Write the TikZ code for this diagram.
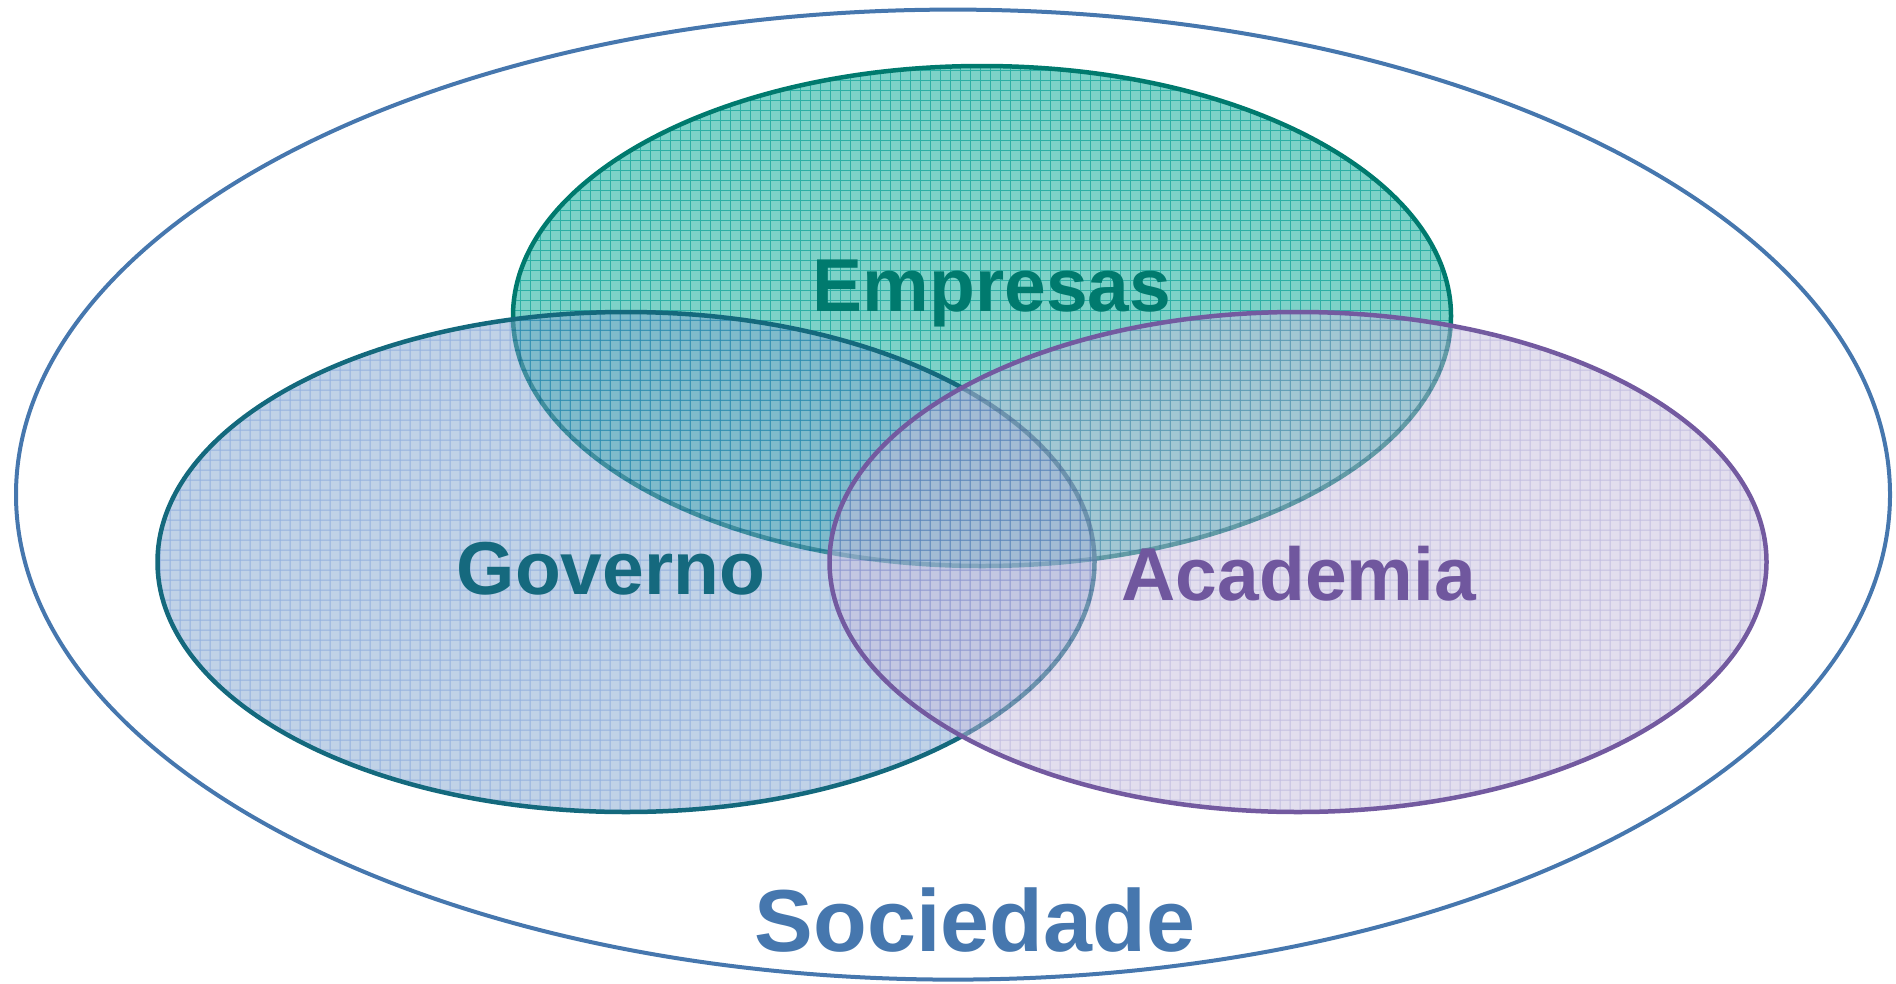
\documentclass[tikz,border=0pt]{standalone}
\usepackage{fontspec}
\setmainfont{Liberation Sans}
\definecolor{outerc}{RGB}{70,119,174}
\definecolor{empfill}{RGB}{125,210,200}
\definecolor{empgrid}{RGB}{45,175,165}
\definecolor{empline}{RGB}{0,122,110}
\definecolor{govfill}{RGB}{130,165,207}
\definecolor{govgrid}{RGB}{40,100,190}
\definecolor{govline}{RGB}{20,105,125}
\definecolor{acafill}{RGB}{198,190,222}
\definecolor{acagrid}{RGB}{135,125,195}
\definecolor{acaline}{RGB}{115,90,160}
\tikzset{
  lbl/.style={font=\fontsize{75}{80}\selectfont\bfseries, anchor=base, inner sep=0pt},
  biglbl/.style={font=\fontsize{88}{92}\selectfont\bfseries, anchor=base, inner sep=0pt},
  rim/.style={line width=4.5pt},
  gridline/.style={line width=1pt}
}
\begin{document}
\begin{tikzpicture}[x=1pt,y=-1pt]
\useasboundingbox (0,0) rectangle (1896,983);
% outer ellipse
\draw[outerc, line width=4pt] (953,494.6) ellipse [x radius=937, y radius=485];
% Empresas
\begin{scope}
  \clip (982,316) ellipse [x radius=469, y radius=250];
  \fill[empfill] (500,60) rectangle (1460,570);
  \foreach \i in {500,510,...,1460} \draw[empgrid, gridline] (\i,60) -- (\i,570);
  \foreach \j in {60,70,...,570} \draw[empgrid, gridline] (500,\j) -- (1460,\j);
\end{scope}
\draw[empline, rim] (982,316) ellipse [x radius=469, y radius=250];
% Governo
\begin{scope}[transparency group, opacity=0.5]
  \clip (626,562) ellipse [x radius=468.5, y radius=250];
  \fill[govfill] (150,300) rectangle (1100,820);
  \foreach \i in {150,160,...,1100} \draw[govgrid, gridline] (\i,300) -- (\i,820);
  \foreach \j in {300,310,...,820} \draw[govgrid, gridline] (150,\j) -- (1100,\j);
\end{scope}
\draw[govline, rim] (626,562) ellipse [x radius=468.5, y radius=250];
% Academia
\begin{scope}[transparency group, opacity=0.5]
  \clip (1298,562) ellipse [x radius=468.5, y radius=250];
  \fill[acafill] (820,300) rectangle (1780,820);
  \foreach \i in {820,830,...,1780} \draw[acagrid, gridline] (\i,300) -- (\i,820);
  \foreach \j in {300,310,...,820} \draw[acagrid, gridline] (820,\j) -- (1780,\j);
\end{scope}
\draw[acaline, rim] (1298,562) ellipse [x radius=468.5, y radius=250];
% labels
\node[lbl, text=empline] (emp) at (992,311) {Empresas};
\node[lbl, text={rgb,255:red,21;green,105;blue,126}] (gov) at (611,594) {Governo};
\node[lbl, text={rgb,255:red,112;green,87;blue,158}] (aca) at (1299,600) {Academia};
\node[biglbl, text=outerc] (soc) at (975,951) {Sociedade};
\end{tikzpicture}
\end{document}
